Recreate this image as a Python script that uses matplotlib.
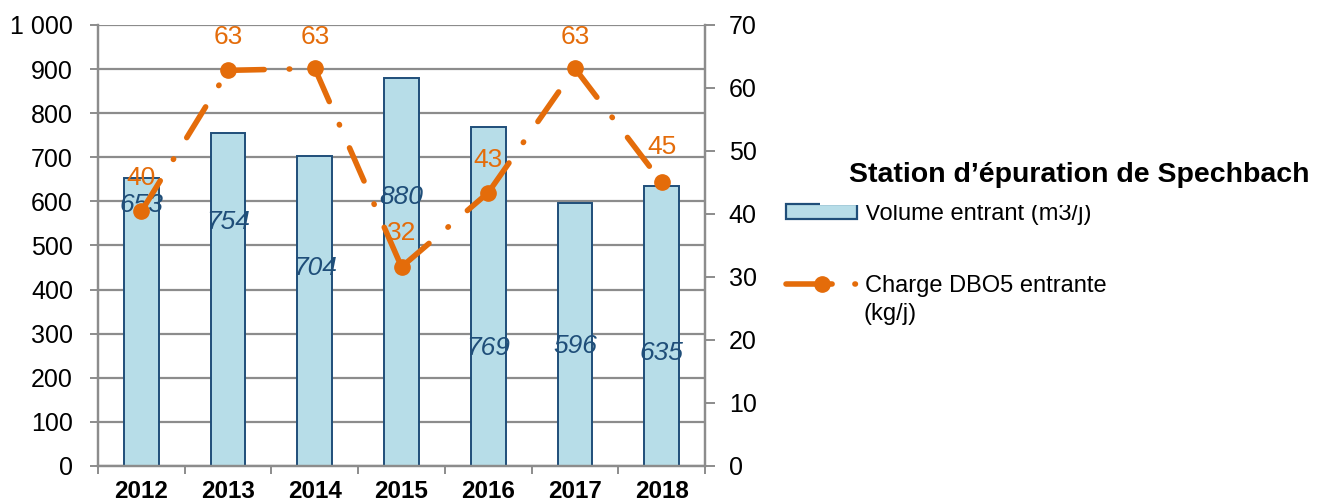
import matplotlib.pyplot as plt
from matplotlib.lines import Line2D
from matplotlib.patches import Patch, Rectangle

plt.rcParams['font.family'] = ['Liberation Sans', 'DejaVu Sans']

years = ['2012', '2013', '2014', '2015', '2016', '2017', '2018']
volume = [653, 754, 704, 880, 769, 596, 635]
charge = [40.4, 62.8, 63.1, 31.6, 43.4, 63.1, 45.0]
charge_labels = ['40', '63', '63', '32', '43', '63', '45']
# where the data labels sit, as in the original
volume_label_y = [592, 553, 449, 610, 268, 272, 256]
charge_label_y = [45.7, 68.1, 68.1, 37.0, 48.6, 68.1, 50.6]

blue_fill = '#B7DDE8'
blue_edge = '#1F4E79'
orange = '#E46C0A'
grey = '#8C8C8C'
dash = (0, (6.5, 4.5, 0.1, 4.5))

fig = plt.figure(figsize=(13.17, 5.04), dpi=100)
ax = fig.add_axes([0.0744, 0.0754, 0.4610, 0.8750])
ax2 = ax.twinx()

x = list(range(len(years)))
ax.bar(x, volume, width=0.4, color=blue_fill, edgecolor=blue_edge, linewidth=1.4, zorder=2)
ax.set_xlim(-0.5, 6.5)
ax.set_ylim(0, 1000)
ax.set_yticks(range(0, 1001, 100))
ax.set_yticklabels(['0', '100', '200', '300', '400', '500', '600', '700', '800', '900', '1 000'])
ax.yaxis.grid(True, color=grey, linewidth=1.6, zorder=0)
ax.set_axisbelow(True)
ax.set_xticks([i - 0.5 for i in range(8)])
ax.set_xticklabels([])
ax.set_xticks(x, minor=True)
ax.set_xticklabels(years, minor=True, fontsize=17.5, fontweight='bold')
ax.tick_params(axis='x', which='minor', length=0, pad=10)
ax.tick_params(axis='x', which='major', length=6, color=grey, width=1.4)
ax.tick_params(axis='y', length=6, color=grey, width=1.4, labelsize=18, pad=12)

for i, v in enumerate(volume):
    ax.text(i, volume_label_y[i], str(v), color=blue_edge, fontsize=19,
            style='italic', ha='center', va='center', zorder=4)

# each segment restarts the dash pattern, like the original
for i in range(len(x) - 1):
    ax2.plot(x[i:i + 2], charge[i:i + 2], color=orange, linewidth=4, linestyle=dash,
             dash_capstyle='round', zorder=3)
ax2.plot(x, charge, linestyle='none', marker='o', markersize=11, color=orange, zorder=3)
ax2.set_ylim(0, 70)
ax2.set_yticks(range(0, 71, 10))
ax2.tick_params(axis='y', length=7, color=grey, width=1.4, labelsize=18, pad=10)
for i, c in enumerate(charge_labels):
    ax2.text(i, charge_label_y[i], c, color=orange, fontsize=19, ha='center', va='center', zorder=4)

for a in (ax, ax2):
    a.spines['top'].set_visible(False)
    for s in ('left', 'right', 'bottom'):
        a.spines[s].set_color(grey)
        a.spines[s].set_linewidth(1.6)

handles = [
    Patch(facecolor=blue_fill, edgecolor=blue_edge, linewidth=1.6),
    Line2D([0], [0], color=orange, linewidth=4, linestyle=(0, (8.3, 4.1, 0.1, 4.1)),
           dash_capstyle='round', marker='o', markersize=11),
]
leg = fig.legend(handles, ['Volume entrant (m3/j)', 'Charge DBO5 entrante'],
                 loc='upper left', bbox_to_anchor=(0.597, 0.598), frameon=False,
                 fontsize=17, handlelength=3.0, handleheight=0.6, handletextpad=0.35,
                 labelspacing=2.15, borderpad=0, borderaxespad=0)
leg.set_zorder(5)
fig.text(0.6555, 0.377, '(kg/j)', fontsize=17, ha='left', va='center')

# the title box hides the top of the first legend entry, as in the original
fig.patches.append(Rectangle((0.623, 0.594), 0.377, 0.12, transform=fig.transFigure,
                             facecolor='white', edgecolor='none', zorder=8))
fig.text(0.994, 0.652, 'Station d\u2019épuration de Spechbach', fontsize=20.5,
         fontweight='bold', ha='right', va='center', zorder=10)

fig.savefig('out.png', dpi=100)
